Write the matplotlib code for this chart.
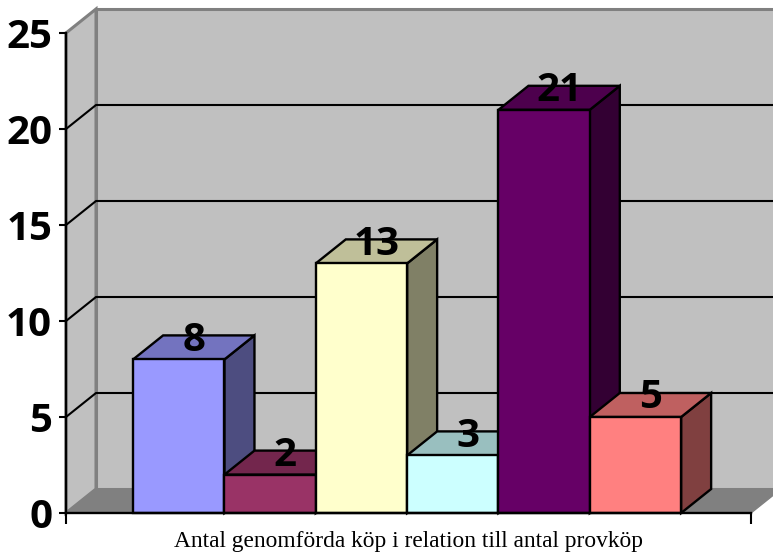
"""Antal genomförda köp, 3D-liknande stapeldiagram."""

import matplotlib
matplotlib.use("Agg")
import matplotlib.pyplot as plt
from matplotlib.colors import to_rgb
from matplotlib.patches import Polygon

values = [8, 2, 13, 3, 21, 5]
colors = ["#9999FF", "#993366", "#FFFFCC", "#CCFFFF", "#660066", "#FF8080"]
y_ticks = [0, 5, 10, 15, 20, 25]
xlabel = "Antal genomförda köp i relation till antal provköp"

W, H = 773, 556
X_MAX = 7.5
Y_MAX = 25
DX = 30 / 685 * X_MAX  # djup i x-enheter
DY = 24 / 480 * Y_MAX  # djup i y-enheter
GAP = 0.735
WALL = "#C0C0C0"
FLOOR = "#808080"


def shade(color, f):
    return tuple(c * f for c in to_rgb(color))


def poly(ax, pts, face, edge="black", lw=1.7, z=2):
    ax.add_patch(Polygon(pts, closed=True, facecolor=face, edgecolor=edge,
                         linewidth=lw, joinstyle="miter", clip_on=False, zorder=z))


fig = plt.figure(figsize=(W / 100, H / 100), dpi=100)
ax = fig.add_axes([66 / W, 1 - 513 / H, 685 / W, 480 / H])
ax.set_xlim(0, X_MAX)
ax.set_ylim(0, Y_MAX)
ax.patch.set_visible(False)

# ── väggar och golv ──
poly(ax, [(DX, DY), (X_MAX + DX, DY), (X_MAX + DX, Y_MAX + DY), (DX, Y_MAX + DY)],
     WALL, edge=FLOOR, lw=2.2, z=1)
poly(ax, [(0, 0), (DX, DY), (DX, Y_MAX + DY), (0, Y_MAX)], WALL, edge=FLOOR, lw=2.2, z=1)
poly(ax, [(0, 0), (X_MAX, 0), (X_MAX + DX, DY), (DX, DY)], FLOOR, edge=FLOOR, lw=1, z=1)

# ── stödlinjer ──
for t in y_ticks[1:-1]:
    ax.plot([0, DX, X_MAX + DX], [t, t + DY, t + DY], color="black", lw=1.5,
            clip_on=False, zorder=1.5)

# ── staplar ──
for i, (v, c) in enumerate(zip(values, colors)):
    x0 = GAP + i
    x1 = x0 + 1
    poly(ax, [(x1, 0), (x1 + DX, DY), (x1 + DX, v + DY), (x1, v)], shade(c, 0.5), z=2 + i)
    poly(ax, [(x0, v), (x0 + DX, v + DY), (x1 + DX, v + DY), (x1, v)], shade(c, 0.75), z=2 + i)
    poly(ax, [(x0, 0), (x1, 0), (x1, v), (x0, v)], c, z=2 + i)

for i, v in enumerate(values):
    ax.text(GAP + i + 0.5 + DX / 2, v + 1.0, str(v), ha="center", va="center",
            family="Open Sans", fontweight="bold", fontsize=29, color="black", zorder=20)

# ── axlar ──
for s in ["top", "right"]:
    ax.spines[s].set_visible(False)
for s in ["left", "bottom"]:
    ax.spines[s].set_linewidth(1.7)
    ax.spines[s].set_zorder(15)
ax.set_yticks(y_ticks)
ax.set_yticklabels([str(t) for t in y_ticks], family="Open Sans", fontweight="bold", fontsize=29)
ax.tick_params(axis="y", length=5, width=1.5, pad=5)
ax.set_xticks([0, X_MAX])
ax.set_xticklabels([])
ax.tick_params(axis="x", length=8, width=1.5)
ax.text(X_MAX / 2, -1.5, xlabel, ha="center", va="center", family="Liberation Serif",
        fontsize=16.8, color="black")

fig.savefig("out.png", dpi=100)
plt.close(fig)
